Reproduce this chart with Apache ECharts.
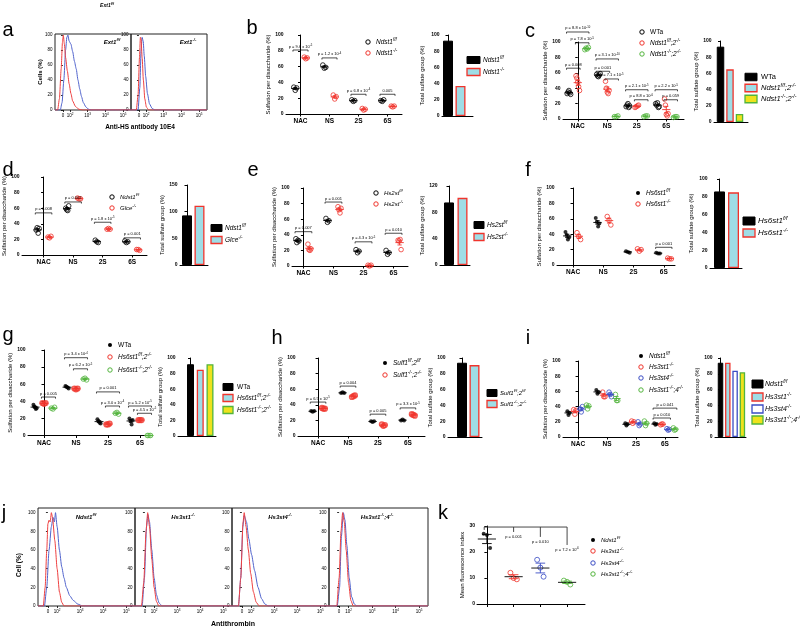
<!DOCTYPE html>
<html><head><meta charset="utf-8">
<script src="https://cdn.jsdelivr.net/npm/echarts@6/dist/echarts.min.js"></script>
<style>html,body{margin:0;padding:0;background:#fff}#c{width:800px;height:630px}</style>
</head><body><div id="c"></div>
<script>
// ---------------- DATA ----------------
const CATS = ['NAC', 'NS', '2S', '6S'];
const FLOW_TICKS = [0, 0.4, 1.4, 2.4, 3.4];
const FLOW_TICK_LABELS = ['0', '10{s|2}', '10{s|3}', '10{s|4}', '10{s|5}'];
const PCT_TICKS = [0, 20, 40, 60, 80, 100];

// panel a (flow histograms, x in display decades, y in %)
const a_ff_red  = [[-0.45,0],[-0.3,0],[-0.2,15],[-0.1,55],[-0.03,90],[0.02,100],[0.08,88],[0.15,70],[0.25,52],[0.35,35],[0.45,22],[0.55,12],[0.7,5],[0.9,1],[1.1,0],[3.85,0]];
const a_ff_blue = [[-0.45,0],[-0.15,0],[-0.05,10],[0.05,40],[0.15,80],[0.22,97],[0.28,100],[0.35,92],[0.45,88],[0.55,78],[0.65,65],[0.75,55],[0.85,40],[0.95,28],[1.05,18],[1.15,10],[1.3,4],[1.45,1],[1.6,0],[3.85,0]];
const a_ko_red  = [[-0.45,0],[-0.15,0],[-0.05,20],[0.03,70],[0.08,97],[0.12,95],[0.18,70],[0.25,40],[0.33,15],[0.42,4],[0.55,0],[3.85,0]];
const a_ko_blue = [[-0.45,0],[-0.05,0],[0.05,30],[0.12,80],[0.18,97],[0.24,92],[0.3,72],[0.38,45],[0.48,22],[0.6,8],[0.75,2],[0.9,0],[3.85,0]];
const a_labels = ['Ext1{s|f/f}', 'Ext1{s|-/-}'];

// panel b
const b_Ndst1ff = [[34,30,33],[62,58,59],[18,16,17],[17,16,18]];
const b_Ndst1ko = [[72,70,71],[24,19,22],[7,5,6],[10,9,10]];
const b_total = [93, 37];
const b_legend = ['Ndst1{s|f/f}', 'Ndst1{s|-/-}'];
const b_brackets = [[0,0,1,81,'p = 9.6 x 10{s|-5}'],[1,0,1,71,'p = 1.2 x 10{s|-4}'],[2,0,1,25,'p = 6.8 x 10{s|-4}'],[3,0,1,25,'0.005']];

// panel c
const c_WTa = [[33,35,37,34,32],[58,56,55,57,59],[16,18,20,15,17],[20,18,21,15,16]];
const c_Ndst1ff2ko = [[56,53,48,42,37],[49,40,35,33,37],[15,16,17,18],[26,18,6,4,7]];
const c_Ndst1ko2ko = [[90,92,91,93],[3,3,4],[3,4,4],[2,3,3]];
const c_total = [93, 65, 10];
const c_legend = ['WTa', 'Ndst1{s|f/f};2{s|-/-}', 'Ndst1{s|-/-};2{s|-/-}'];
const c_brackets = [[0,0,2,113,'p = 8.8 x 10{s|-10}'],[0,1,2,99,'p = 7.8 x 10{s|-5}'],[0,0,1,66,'p = 0.008'],
  [1,0,2,78,'p = 3.1 x 10{s|-10}'],[1,0,1,62,'p = 0.001'],[1,1,2,52,'p = 7.1 x 10{s|-5}'],
  [2,0,2,38,'p = 2.1 x 10{s|-5}'],[2,1,2,25,'p = 8.8 x 10{s|-6}'],
  [3,0,2,38,'p = 2.2 x 10{s|-5}'],[3,1,2,25,'p = 0.059']];

// panel d
const d_Ndst1ff = [[32,35,28,34],[60,58,57,63],[19,17,16],[18,16,17]];
const d_Glceko = [[23,22,24],[73,72,72],[33,34,33],[7,7,6]];
const d_total = [93, 111];
const d_legend = ['Ndst1{s|f/f}', 'Glce{s|-/-}'];
const d_brackets = [[0,0,1,54,'p = 0.008'],[1,0,1,68,'p = 0.002'],[2,0,1,42,'p = 1.8 x 10{s|-5}'],[3,0,1,22,'p = 0.001']];

// panel e
const e_Hs2stff = [[35,30,33,32],[61,56,58],[21,17,19],[20,15,17]];
const e_Hs2stko = [[28,21,20,22],[76,72,68,74],[1,0,1],[33,32,34,21]];
const e_total = [95, 102];
const e_legend = ['Hs2st{s|f/f}', 'Hs2st{s|-/-}'];
const e_brackets = [[0,0,1,44,'p = 0.007'],[1,0,1,82,'p = 0.001'],[2,0,1,31,'p = 4.3 x 10{s|-5}'],[3,0,1,42,'p = 0.010']];

// panel f
const f_Hs6st1ff = [[43,39,33,36],[61,56,50,54],[18,17,16],[16,15,15]];
const f_Hs6st1ko = [[42,37,33],[63,58,52],[21,18,20],[9,8,8]];
const f_total = [86, 85];
const f_legend = ['Hs6st1{s|f/f}', 'Hs6st1{s|-/-}'];
const f_brackets = [[3,0,1,23,'p = 0.001']];

// panel g
const g_WTa = [[36,34,33,31,32],[58,57,56,55],[19,17,15,14],[20,17,13,18]];
const g_Hs6st1ff2ko = [[38,37,38],[55,54,55],[13,13,14],[18,18,18]];
const g_Hs6st1ko2ko = [[32,31,33],[66,67,65],[26,27,25],[0,0,0]];
const g_total = [92, 85, 92];
const g_legend = ['WTa', 'Hs6st1{s|f/f};2{s|-/-}', 'Hs6st1{s|-/-};2{s|-/-}'];
const g_brackets = [[0,1,2,45,'p = 0.005'],[1,0,2,91,'p = 3.4 x 10{s|-4}'],[1,1,2,78,'p = 6.2 x 10{s|-5}'],
  [2,0,2,51,'p = 0.001'],[2,1,2,34.5,'p = 3.0 x 10{s|-4}'],[3,0,2,34.5,'p = 5.2 x 10{s|-5}'],[3,1,2,26,'p = 4.5 x 10{s|-5}']];

// panel h
const h_Sulf1ff = [[32,31,32],[55,56,55],[19,18,19],[20,21,20]];
const h_Sulf1ko = [[36,35,35],[50,51,52],[15,13,14],[28,27,26]];
const h_total = [94, 91];
const h_legend = ['Sulf1{s|f/f};2{s|f/f}', 'Sulf1{s|-/-};2{s|-/-}'];
const h_brackets = [[0,0,1,43.5,'p = 6.5 x 10{s|-5}'],[1,0,1,64,'p = 0.004'],[2,0,1,28,'p = 0.005'],[3,0,1,36,'p = 3.3 x 10{s|-5}']];

// panel i
const i_Ndst1ff = [[34,29,32],[62,57,59],[18,15,17],[18,16,17]];
const i_Hs3st1ko = [[36,30,35],[59,53,53],[21,18,20],[16,17,17]];
const i_Hs3st4ko = [[37,33,40],[59,56,53],[20,15,17],[11,9,10]];
const i_Hs3st14ko = [[42,37,41],[56,48,48],[21,15,18],[12,9,10]];
const i_total = [94, 94, 84, 82];
const i_legend = ['Ndst1{s|f/f}', 'Hs3st1{s|-/-}', 'Hs3st4{s|-/-}', 'Hs3st1{s|-/-};4{s|-/-}'];
const i_brackets = [[3,0,3,38,'p = 0.041'],[3,0,2,25,'p = 0.010']];

// panel j (flow histograms)
const j1_red  = [[-0.43,0],[-0.2,0],[-0.12,20],[-0.05,60],[0.0,88],[0.05,92],[0.1,90],[0.15,100],[0.2,95],[0.3,70],[0.4,40],[0.5,15],[0.6,4],[0.7,0],[3.78,0]];
const j1_blue = [[-0.43,0],[-0.15,0],[-0.05,20],[0.05,60],[0.15,85],[0.22,95],[0.28,90],[0.33,100],[0.4,85],[0.5,60],[0.6,42],[0.7,30],[0.8,20],[0.95,11],[1.1,6],[1.3,2],[1.5,0],[3.78,0]];
const j2_red  = [[-0.43,0],[-0.15,0],[-0.05,25],[0.05,80],[0.12,100],[0.2,85],[0.3,50],[0.4,20],[0.5,5],[0.6,0],[3.78,0]];
const j2_blue = [[-0.43,0],[-0.12,0],[-0.02,30],[0.07,85],[0.13,98],[0.2,90],[0.3,60],[0.4,30],[0.5,12],[0.62,3],[0.75,0],[3.78,0]];
const j3_red  = [[-0.43,0],[-0.15,0],[-0.05,30],[0.05,90],[0.1,100],[0.18,85],[0.28,60],[0.38,35],[0.5,15],[0.62,4],[0.75,0],[3.78,0]];
const j3_blue = [[-0.43,0],[-0.15,0],[-0.05,30],[0.04,85],[0.1,97],[0.2,90],[0.3,72],[0.42,55],[0.55,38],[0.7,20],[0.85,8],[1.0,2],[1.15,0],[3.78,0]];
const j4_red  = [[-0.43,0],[-0.1,0],[0.0,30],[0.08,80],[0.15,100],[0.22,90],[0.3,60],[0.4,25],[0.5,6],[0.6,0],[3.78,0]];
const j4_blue = [[-0.43,0],[-0.08,0],[0.02,20],[0.1,75],[0.18,100],[0.25,92],[0.33,65],[0.43,30],[0.53,10],[0.65,2],[0.75,0],[3.78,0]];
const j_labels = ['Ndst1{s|f/f}', 'Hs3st1{s|-/-}', 'Hs3st4{s|-/-}', 'Hs3st1{s|-/-};4{s|-/-}'];

// panel k
const k_Ndst1ff = [27, 26.5, 21.5];
const k_Hs3st1ko = [12, 10, 9.5];
const k_Hs3st4ko = [17, 14, 10.5];
const k_Hs3st14ko = [9, 8.5, 7.5];
const k_drops = [[1, 27.7, 'p = 0.001'], [2, 25.8, 'p = 0.010'], [3, 22.7, 'p = 7.2 x 10{s|-6}']];
const K_TOP = 29.6;

// ---------------- STYLE / LAYOUT ----------------
const FONT = '"Liberation Sans", Arial, Helvetica, sans-serif';
const RED = '#f0342c', GREEN = '#52b43c', BLUE = '#3a4cc4', BLACK = '#000';
const FLOW_RED = '#ee4040', FLOW_BLUE = '#5063cc';
const BK = {color: '#000', borderColor: '#000', borderWidth: 1};
const CR = {color: '#9fdde6', borderColor: '#f0342c', borderWidth: 1.3};
const YG = {color: '#eee21c', borderColor: '#52b43c', borderWidth: 1.3};
const WB = {color: '#ffffff', borderColor: '#3a4cc4', borderWidth: 1.3};
const AXL = {show: true, lineStyle: {color: '#000', width: 1}};
const AXT = {show: true, length: 2.5, lineStyle: {color: '#000', width: 1}};

const grids = [], xAxes = [], yAxes = [], series = [], graphics = [];
const mean = a => a.reduce((s, v) => s + v, 0) / a.length;
const sem = a => { const m = mean(a); return Math.sqrt(a.reduce((s, v) => s + (v - m) * (v - m), 0) / (a.length - 1)) / Math.sqrt(a.length); };
const JIT = {1: [0], 2: [-1, 1], 3: [-1, 0, 1], 4: [-1, -0.35, 0.35, 1], 5: [-1, -0.5, 0, 0.5, 1]};

function supRich(fs, st, fw) {
  return {s: {fontSize: +(fs * 0.68).toFixed(2), fontFamily: FONT, fontStyle: st || 'normal', fontWeight: fw || 'normal',
    verticalAlign: 'top', lineHeight: +(fs * 0.7).toFixed(2)}};
}
function txt(x, y, text, o) {
  o = o || {};
  const fs = o.fs || 6, st = o.italic ? 'italic' : 'normal', fw = o.bold ? 'bold' : 'normal';
  const al = o.align || 'left', va = o.va || 'middle';
  graphics.push({type: 'text', x: x, y: y, rotation: o.rot || 0, silent: true, z: 20,
    style: {text: text, fill: o.color || '#000', fontSize: fs, fontFamily: FONT, fontStyle: st, fontWeight: fw,
      textAlign: al, textVerticalAlign: va, align: al, verticalAlign: va, lineHeight: fs * 1.3, rich: supRich(fs, st, fw)}});
}
function dot(x, y, color, filled, r) {
  graphics.push({type: 'circle', silent: true, z: 20, shape: {cx: x, cy: y, r: r || 2.2},
    style: filled ? {fill: color} : {fill: 'rgba(0,0,0,0)', stroke: color, lineWidth: 1}});
}
function rectL(x, y, w, h, st) {
  graphics.push({type: 'rect', silent: true, z: 20, shape: {x: x, y: y - h / 2, width: w, height: h},
    style: {fill: st.color, stroke: st.borderColor, lineWidth: st.borderWidth}});
}
function addGrid(x0, x1, yTop, yBot, xa, ya, extra) {
  const gi = grids.length;
  grids.push(Object.assign({left: x0, top: yTop, width: x1 - x0, height: yBot - yTop}, extra || {}));
  xa.gridIndex = gi; ya.gridIndex = gi;
  xAxes.push(xa); yAxes.push(ya);
  return gi;
}
function meanRender(color, mw, cw, lw, meanColor) {
  return function (params, api) {
    const x = api.value(0), m = api.value(1), s = api.value(2);
    const pm = api.coord([x, m]), pu = api.coord([x, m + s]), pl = api.coord([x, m - s]);
    const ux = api.size([1, 0])[0];
    const hw = mw * ux, hc = cw * ux;
    const st = {stroke: color, lineWidth: lw};
    return {type: 'group', children: [
      {type: 'line', shape: {x1: pm[0] - hw, y1: pm[1], x2: pm[0] + hw, y2: pm[1]}, style: {stroke: meanColor || color, lineWidth: lw}},
      {type: 'line', shape: {x1: pm[0], y1: pu[1], x2: pm[0], y2: pl[1]}, style: st},
      {type: 'line', shape: {x1: pm[0] - hc, y1: pu[1], x2: pm[0] + hc, y2: pu[1]}, style: st},
      {type: 'line', shape: {x1: pm[0] - hc, y1: pl[1], x2: pm[0] + hc, y2: pl[1]}, style: st}
    ]};
  };
}
function bracketRender(labels, fs) {
  return function (params, api) {
    const a = api.coord([api.value(0), api.value(2)]), b = api.coord([api.value(1), api.value(2)]);
    const t = 1.6;
    return {type: 'group', children: [
      {type: 'polyline', shape: {points: [[a[0], a[1] + t], [a[0], a[1]], [b[0], b[1]], [b[0], b[1] + t]]},
        style: {stroke: '#000', lineWidth: 0.7, fill: null}},
      {type: 'text', x: (a[0] + b[0]) / 2, y: a[1] - 1,
        style: {text: labels[params.dataIndex], fill: '#000', fontSize: fs, fontFamily: FONT,
          textAlign: 'center', textVerticalAlign: 'bottom', align: 'center', verticalAlign: 'bottom',
          lineHeight: fs * 1.3, rich: supRich(fs)}}
    ]};
  };
}

function scatterPanel(p) {
  const gi = addGrid(p.x0, p.x1, p.yTop, p.yBot, {
    type: 'value', min: p.xmin, max: p.xmax, axisLine: AXL, splitLine: {show: false},
    axisTick: Object.assign({customValues: [0, 1, 2, 3]}, AXT),
    axisLabel: {customValues: [0, 1, 2, 3], formatter: v => CATS[Math.round(v)], fontSize: 6.5, fontWeight: 'bold', color: '#000', fontFamily: FONT, margin: 4}
  }, {
    type: 'value', min: 0, max: 100, interval: 20, axisLine: AXL, splitLine: {show: false}, axisTick: AXT,
    axisLabel: {fontSize: 5, fontWeight: 'bold', color: '#000', fontFamily: FONT, margin: 2.5},
    name: 'Sulfation per disaccharide (%)', nameLocation: 'middle', nameGap: p.gap,
    nameTextStyle: {fontSize: 6, color: '#000', fontFamily: FONT}
  });
  p.groups.forEach((g, k) => {
    const pts = [];
    g.d.forEach((vals, ci) => vals.forEach((v, j) => pts.push([ci + p.off[k] + JIT[vals.length][j] * p.jit, v])));
    series.push({type: 'scatter', xAxisIndex: gi, yAxisIndex: gi, data: pts, symbol: 'circle', symbolSize: g.f ? 4 : 4.6,
      clip: false, silent: true, z: 3,
      itemStyle: g.f ? {color: g.c} : {color: 'rgba(255,255,255,0)', borderColor: g.c, borderWidth: g.bw || 1}});
    const ms = g.d.map((vals, ci) => [ci + p.off[k], mean(vals), sem(vals)]);
    series.push({type: 'custom', xAxisIndex: gi, yAxisIndex: gi, data: ms, clip: false, silent: true, z: 4,
      renderItem: meanRender(g.c, 0.14, 0.07, 0.9)});
  });
  const bd = p.br.map(b => [b[0] + p.off[b[1]] - 0.08, b[0] + p.off[b[2]] + 0.08, b[3]]);
  series.push({type: 'custom', xAxisIndex: gi, yAxisIndex: gi, data: bd, clip: false, silent: true, z: 5,
    renderItem: bracketRender(p.br.map(b => b[4]), 4)});
  const L = p.leg;
  p.groups.forEach((g, k) => {
    dot(L.x, L.y[k], g.c, g.f, g.f ? 2 : 2.2);
    const t = L.t[k];
    txt(L.x + 8, L.y[k], t, {fs: L.fs, italic: t !== 'WTa'});
  });
}

function barPanel(p) {
  const xmin = -(p.c0 - p.x0) / p.step, xmax = xmin + (p.x1 - p.x0) / p.step;
  const gi = addGrid(p.x0, p.x1, p.yTop, p.yBot, {
    type: 'value', min: xmin, max: xmax, axisLine: AXL, offset: p.xoff || 0, axisTick: {show: false}, axisLabel: {show: false}, splitLine: {show: false}
  }, {
    type: 'value', min: 0, max: p.max || 100, interval: p.int || 20, axisLine: AXL, axisTick: AXT, splitLine: {show: false},
    axisLabel: {fontSize: 5, fontWeight: 'bold', color: '#000', fontFamily: FONT, margin: 2.5},
    name: 'Total sulfate group (%)', nameLocation: 'middle', nameGap: p.gap,
    nameTextStyle: {fontSize: 6, color: '#000', fontFamily: FONT}
  });
  series.push({type: 'bar', xAxisIndex: gi, yAxisIndex: gi, barWidth: p.bw, silent: true, z: 3,
    data: p.vals.map((v, i) => ({value: [i, v], itemStyle: p.styles[i]}))});
  const L = p.leg;
  p.styles.forEach((s, k) => {
    rectL(L.x, L.y[k], L.w, L.h, s);
    const t = L.t[k];
    txt(L.tx, L.y[k], t, {fs: L.fs, italic: t !== 'WTa'});
  });
}

function flowPanel(boxes, yTop, yBot, ymax, xmin, xmax, curves, labels, labelDx, labelY) {
  boxes.forEach((bx, n) => {
    const gi = addGrid(bx[0], bx[1], yTop, yBot, {
      type: 'value', min: xmin, max: xmax, axisLine: {show: false}, splitLine: {show: false},
      axisTick: {show: true, length: 2, customValues: FLOW_TICKS, lineStyle: {color: '#000', width: 0.8}},
      axisLabel: {customValues: FLOW_TICKS, formatter: v => FLOW_TICK_LABELS[FLOW_TICKS.indexOf(v)],
        fontSize: 4.5, color: '#000', fontFamily: FONT, margin: 3, lineHeight: 6, rich: supRich(4.5)}
    }, {
      type: 'value', min: 0, max: ymax, axisLine: {show: false}, splitLine: {show: false},
      axisTick: {show: true, length: 2, customValues: PCT_TICKS, lineStyle: {color: '#000', width: 0.8}},
      axisLabel: {customValues: PCT_TICKS, fontSize: 4.5, color: '#000', fontFamily: FONT, margin: 2.5}
    }, {show: true, borderColor: '#222', borderWidth: 1, backgroundColor: 'rgba(0,0,0,0)'});
    curves[n].forEach((c, m) => {
      series.push({type: 'line', xAxisIndex: gi, yAxisIndex: gi, data: c, showSymbol: false, smooth: 0.2, smoothMonotone: 'x', silent: true,
        z: m === 0 ? 4 : 3, lineStyle: {color: m === 0 ? FLOW_RED : FLOW_BLUE, width: 1}});
    });
    txt(bx[0] + labelDx, labelY, labels[n], {fs: 6, italic: true, bold: true, align: 'center'});
  });
}

// ---------------- BUILD ----------------
// panel a
flowPanel([[55, 131], [131, 207]], 34, 110, 101.5, -0.45, 3.85,
  [[a_ff_red, a_ff_blue], [a_ko_red, a_ko_blue]], a_labels, 57, 42);
txt(107, 6, 'Ext1{s|f/f}', {fs: 5, italic: true, bold: true, align: 'center'});
txt(40, 72, 'Cells (%)', {fs: 6, bold: true, align: 'center', rot: Math.PI / 2});
txt(140, 127, 'Anti-HS antibody 10E4', {fs: 6.5, bold: true, align: 'center'});

// scatter panels
scatterPanel({x0: 286, x1: 402, yTop: 35, yBot: 114, xmin: -0.5, xmax: 3.5, gap: 12, off: [-0.18, 0.18], jit: 0.05,
  groups: [{d: b_Ndst1ff, c: BLACK}, {d: b_Ndst1ko, c: RED}], br: b_brackets,
  leg: {x: 368, y: [42, 53], fs: 6.5, t: b_legend}});
scatterPanel({x0: 563, x1: 684, yTop: 42, yBot: 119, xmin: -0.5, xmax: 3.6, gap: 15, off: [-0.3, 0, 0.3], jit: 0.06,
  groups: [{d: c_WTa, c: BLACK}, {d: c_Ndst1ff2ko, c: RED}, {d: c_Ndst1ko2ko, c: GREEN}], br: c_brackets,
  leg: {x: 642, y: [32, 43, 54], fs: 6.5, t: c_legend}});
scatterPanel({x0: 22, x1: 147, yTop: 177, yBot: 255, xmin: -0.73, xmax: 3.5, gap: 6, off: [-0.2, 0.2], jit: 0.05,
  groups: [{d: d_Ndst1ff, c: BLACK}, {d: d_Glceko, c: RED}], br: d_brackets,
  leg: {x: 112, y: [197, 208], fs: 6, t: d_legend}});
scatterPanel({x0: 292, x1: 408, yTop: 188, yBot: 266, xmin: -0.38, xmax: 3.48, gap: 12, off: [-0.2, 0.2], jit: 0.05,
  groups: [{d: e_Hs2stff, c: BLACK}, {d: e_Hs2stko, c: RED}], br: e_brackets,
  leg: {x: 376, y: [193, 204], fs: 6, t: e_legend}});
scatterPanel({x0: 557, x1: 675, yTop: 188, yBot: 265, xmin: -0.53, xmax: 3.37, gap: 11, off: [-0.19, 0.19], jit: 0.06,
  groups: [{d: f_Hs6st1ff, c: BLACK, f: true}, {d: f_Hs6st1ko, c: RED}], br: f_brackets,
  leg: {x: 638, y: [193, 204], fs: 6.5, t: f_legend}});
scatterPanel({x0: 28, x1: 148, yTop: 350, yBot: 435.5, xmin: -0.5, xmax: 3.25, gap: 13, off: [-0.28, 0, 0.28], jit: 0.05,
  groups: [{d: g_WTa, c: BLACK, f: true}, {d: g_Hs6st1ff2ko, c: RED, bw: 1.6}, {d: g_Hs6st1ko2ko, c: GREEN}], br: g_brackets,
  leg: {x: 110, y: [345, 357, 370], fs: 6.5, t: g_legend}});
scatterPanel({x0: 298, x1: 425, yTop: 358, yBot: 436, xmin: -0.67, xmax: 3.57, gap: 9, off: [-0.18, 0.18], jit: 0.05,
  groups: [{d: h_Sulf1ff, c: BLACK, f: true}, {d: h_Sulf1ko, c: RED, bw: 1.6}], br: h_brackets,
  leg: {x: 385, y: [363, 375], fs: 6.5, t: h_legend}});
scatterPanel({x0: 563, x1: 678, yTop: 361, yBot: 437, xmin: -0.52, xmax: 3.45, gap: 13, off: [-0.33, -0.11, 0.11, 0.33], jit: 0.04,
  groups: [{d: i_Ndst1ff, c: BLACK, f: true}, {d: i_Hs3st1ko, c: RED}, {d: i_Hs3st4ko, c: BLUE}, {d: i_Hs3st14ko, c: GREEN}], br: i_brackets,
  leg: {x: 641, y: [356, 367, 378, 390], fs: 6.5, t: i_legend}});

// bar panels
barPanel({x0: 442, x1: 473, yTop: 35, yBot: 116, gap: 17, c0: 448, step: 12.5, bw: 10, xoff: 5, vals: b_total, styles: [BK, CR],
  leg: {x: 467, w: 13, h: 7, y: [60, 72], tx: 483, fs: 6.5, t: b_legend}});
barPanel({x0: 714, x1: 748, yTop: 41, yBot: 122, gap: 13, c0: 720.5, step: 9.5, bw: 7.5, vals: c_total, styles: [BK, CR, YG],
  leg: {x: 745, w: 12, h: 7.5, y: [77, 88, 99], tx: 761, fs: 7.5, t: c_legend}});
barPanel({x0: 180, x1: 208, yTop: 185, yBot: 265, max: 150, int: 50, gap: 12, c0: 187, step: 12.5, bw: 10, vals: d_total, styles: [BK, CR],
  leg: {x: 211, w: 11, h: 7, y: [228, 240], tx: 225, fs: 6.5, t: d_legend}});
barPanel({x0: 440, x1: 470, yTop: 186, yBot: 265, max: 120, int: 40, gap: 14, c0: 449, step: 13.5, bw: 10, vals: e_total, styles: [BK, CR],
  leg: {x: 474, w: 10, h: 7, y: [225, 237], tx: 487, fs: 6.5, t: e_legend}});
barPanel({x0: 710, x1: 742, yTop: 179, yBot: 268, gap: 16, c0: 719.5, step: 14, bw: 11, vals: f_total, styles: [BK, CR],
  leg: {x: 743, w: 12, h: 8, y: [221, 233], tx: 758, fs: 8, t: f_legend}});
barPanel({x0: 178, x1: 216, yTop: 358, yBot: 436, gap: 9, c0: 190.5, step: 9.75, bw: 7, vals: g_total, styles: [BK, CR, YG],
  leg: {x: 223, w: 10, h: 7, y: [387, 398, 410], tx: 237, fs: 6.5, t: g_legend}});
barPanel({x0: 448, x1: 482, yTop: 358, yBot: 437, gap: 11, c0: 462, step: 12.5, bw: 10, vals: h_total, styles: [BK, CR],
  leg: {x: 487, w: 10, h: 7, y: [393, 404], tx: 500, fs: 6, t: h_legend}});
barPanel({x0: 715, x1: 746, yTop: 358, yBot: 437, gap: 13, c0: 720.5, step: 7.3, bw: 5.5, vals: i_total, styles: [BK, CR, WB, YG],
  leg: {x: 752, w: 11, h: 8, y: [384, 397, 409, 420], tx: 765, fs: 7, t: i_legend}});

// panel j
flowPanel([[38, 135], [135, 232], [232, 329], [329, 428]], 508, 606, 105, -0.43, 3.78,
  [[j1_red, j1_blue], [j2_red, j2_blue], [j3_red, j3_blue], [j4_red, j4_blue]], j_labels, 48, 517);
txt(19, 565, 'Cell (%)', {fs: 6.5, bold: true, align: 'center', rot: Math.PI / 2});
txt(233, 624, 'Antithrombin', {fs: 7, bold: true, align: 'center'});

// panel k
(function () {
  const gi = addGrid(477, 585, 526, 604, {
    type: 'value', min: -0.37, max: 3.67, axisLine: AXL, splitLine: {show: false},
    axisTick: {show: true, length: 3, customValues: [0, 1, 2, 3], lineStyle: {color: '#000'}}, axisLabel: {show: false}
  }, {
    type: 'value', min: 0, max: 30, interval: 10, axisLine: AXL, axisTick: AXT, splitLine: {show: false},
    axisLabel: {fontSize: 5, fontWeight: 'bold', color: '#000', fontFamily: FONT, margin: 2},
    name: 'Mean fluorescence index', nameLocation: 'middle', nameGap: 7, nameTextStyle: {fontSize: 6, color: '#000', fontFamily: FONT}
  });
  const groups = [{d: k_Ndst1ff, c: BLACK, f: true}, {d: k_Hs3st1ko, c: RED}, {d: k_Hs3st4ko, c: BLUE}, {d: k_Hs3st14ko, c: GREEN}];
  groups.forEach((g, k) => {
    series.push({type: 'scatter', xAxisIndex: gi, yAxisIndex: gi, data: g.d.map((v, j) => [k + JIT[g.d.length][j] * 0.12, v]),
      symbol: 'circle', symbolSize: g.f ? 4 : 5, clip: false, silent: true, z: 3,
      itemStyle: g.f ? {color: g.c} : {color: 'rgba(255,255,255,0)', borderColor: g.c, borderWidth: 1}});
    series.push({type: 'custom', xAxisIndex: gi, yAxisIndex: gi, data: [[k, mean(g.d), sem(g.d)]], clip: false, silent: true, z: 4,
      renderItem: meanRender(g.c, 0.34, 0.18, 0.9, '#000')});
  });
  series.push({type: 'custom', xAxisIndex: gi, yAxisIndex: gi, data: k_drops.map(d => [d[0], d[1]]), clip: false, silent: true, z: 5,
    renderItem: function (params, api) {
      const x = api.value(0), y = api.value(1);
      const top = api.coord([x, K_TOP]), bot = api.coord([x, y]);
      const ch = [
        {type: 'line', shape: {x1: top[0], y1: top[1], x2: bot[0], y2: bot[1]}, style: {stroke: '#333', lineWidth: 0.9}},
        {type: 'text', x: bot[0], y: bot[1] + 2, style: {text: k_drops[params.dataIndex][2], fill: '#000', fontSize: 4, fontFamily: FONT,
          textAlign: 'center', textVerticalAlign: 'top', align: 'center', verticalAlign: 'top', lineHeight: 5.2, rich: supRich(4)}}
      ];
      if (params.dataIndex === 0) {
        const l = api.coord([-0.1, K_TOP]), r = api.coord([3, K_TOP]), lb = api.coord([-0.1, 28.5]);
        ch.push({type: 'line', shape: {x1: l[0], y1: l[1], x2: r[0], y2: r[1]}, style: {stroke: '#333', lineWidth: 0.9}});
        ch.push({type: 'line', shape: {x1: l[0], y1: l[1], x2: lb[0], y2: lb[1]}, style: {stroke: '#333', lineWidth: 0.9}});
      }
      return {type: 'group', children: ch};
    }});
  i_legend.forEach((t, k) => {
    dot(593, [540, 551, 563, 574][k], groups[k].c, groups[k].f, groups[k].f ? 2 : 2.2);
    txt(601, [540, 551, 563, 574][k], t, {fs: 6, italic: true});
  });
})();

// panel letters
[['a', 8, 30], ['b', 252, 28], ['c', 530, 31], ['d', 8, 170], ['e', 253, 170], ['f', 528, 170],
 ['g', 8, 335], ['h', 277, 338], ['i', 528, 338], ['j', 4, 513], ['k', 443, 513]].forEach(l =>
  txt(l[1], l[2], l[0], {fs: 20, align: 'center'}));

const chart = echarts.init(document.getElementById('c'), null, {renderer: 'canvas', width: 800, height: 630});
chart.setOption({
  animation: false, backgroundColor: '#fff',
  grid: grids, xAxis: xAxes, yAxis: yAxes, series: series,
  graphic: {elements: graphics}
});
</script></body></html>
